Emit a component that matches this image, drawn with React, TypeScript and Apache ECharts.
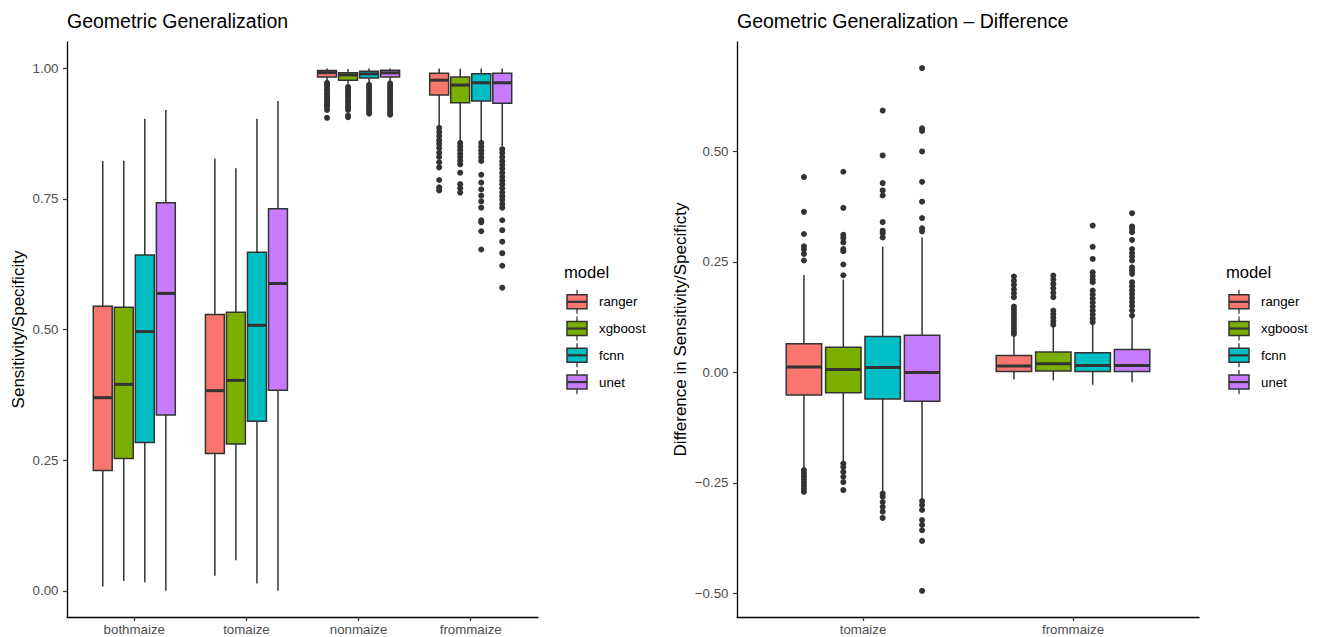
import React, { useEffect, useRef } from "react";
import * as echarts from "echarts";

const FONT = "'Liberation Sans', Arial, Helvetica, sans-serif";

const models = ["ranger", "xgboost", "fcnn", "unet"];
const modelColors = ["#F8766D", "#7CAE00", "#00BFC4", "#C77CFF"];

const leftCategories = ["bothmaize", "tomaize", "nonmaize", "frommaize"];
const rightCategories = ["tomaize", "frommaize"];

const leftYTicks = [0, 0.25, 0.5, 0.75, 1.0];
const rightYTicks = [-0.5, -0.25, 0, 0.25, 0.5];

// Box stats per category: [lower whisker, Q1, median, Q3, upper whisker]
const leftRanger = [
  [0.0083, 0.2303, 0.3696, 0.5445, 0.8225],
  [0.029, 0.2627, 0.383, 0.5286, 0.827],
  [0.977, 0.983, 0.9914, 0.9956, 0.9995],
  [0.889, 0.9485, 0.977, 0.990, 0.9994],
];
const leftXgboost = [
  [0.019, 0.2532, 0.395, 0.5426, 0.823],
  [0.0585, 0.281, 0.4027, 0.533, 0.8085],
  [0.970, 0.977, 0.987, 0.991, 0.9985],
  [0.862, 0.934, 0.9676, 0.983, 0.999],
];
const leftFcnn = [
  [0.0165, 0.2837, 0.496, 0.6425, 0.903],
  [0.014, 0.3244, 0.508, 0.6476, 0.903],
  [0.972, 0.981, 0.989, 0.994, 0.9995],
  [0.861, 0.937, 0.972, 0.9895, 0.9994],
];
const leftUnet = [
  [0.0, 0.3365, 0.569, 0.7424, 0.9198],
  [0.0, 0.384, 0.588, 0.731, 0.937],
  [0.976, 0.983, 0.991, 0.996, 0.9995],
  [0.851, 0.9326, 0.972, 0.990, 0.9994],
];

// Outliers per category
const leftRangerOut = [
  [],
  [],
  [0.972, 0.968, 0.965, 0.96, 0.957, 0.952, 0.949, 0.944, 0.94, 0.937, 0.932, 0.928, 0.925, 0.92, 0.905],
  [0.886, 0.878, 0.870, 0.862, 0.855, 0.847, 0.838, 0.83, 0.82, 0.81, 0.786, 0.772, 0.766],
];
const leftXgboostOut = [
  [],
  [],
  [0.964, 0.96, 0.955, 0.951, 0.947, 0.943, 0.938, 0.934, 0.929, 0.925, 0.92, 0.909, 0.906],
  [0.857, 0.85, 0.843, 0.836, 0.83, 0.823, 0.816, 0.80, 0.778, 0.77, 0.762],
];
const leftFcnnOut = [
  [],
  [],
  [0.968, 0.963, 0.959, 0.954, 0.95, 0.945, 0.941, 0.936, 0.931, 0.927, 0.922, 0.918, 0.913],
  [0.857, 0.85, 0.843, 0.836, 0.829, 0.8225, 0.796, 0.781, 0.768, 0.756, 0.745, 0.733, 0.709, 0.705, 0.688, 0.653],
];
const leftUnetOut = [
  [],
  [],
  [0.971, 0.966, 0.962, 0.957, 0.953, 0.948, 0.944, 0.939, 0.935, 0.93, 0.925, 0.92, 0.915, 0.911],
  [0.845, 0.838, 0.83, 0.822, 0.815, 0.808, 0.8, 0.792, 0.785, 0.778, 0.77, 0.762, 0.755, 0.748, 0.74, 0.733, 0.709, 0.69, 0.668, 0.646, 0.622, 0.58],
];

const rightRanger = [
  [-0.217, -0.051, 0.012, 0.0647, 0.2205],
  [-0.016, 0.0023, 0.0142, 0.038, 0.0835],
];
const rightXgboost = [
  [-0.2025, -0.046, 0.0068, 0.057, 0.21],
  [-0.018, 0.003, 0.0195, 0.046, 0.104],
];
const rightFcnn = [
  [-0.27, -0.06, 0.0113, 0.0813, 0.284],
  [-0.028, 0.0023, 0.0158, 0.0444, 0.11],
];
const rightUnet = [
  [-0.287, -0.065, 0.0, 0.084, 0.305],
  [-0.022, 0.0023, 0.0158, 0.052, 0.125],
];

const rightRangerOut = [
  [0.4417, 0.363, 0.313, 0.285, 0.278, 0.268, 0.253, -0.221, -0.228, -0.235, -0.242, -0.249, -0.256, -0.263, -0.27],
  [0.2167, 0.207, 0.198, 0.188, 0.179, 0.17, 0.149, 0.142, 0.135, 0.128, 0.121, 0.114, 0.107, 0.1, 0.093, 0.087],
];
const rightXgboostOut = [
  [0.4537, 0.372, 0.311, 0.304, 0.294, 0.279, 0.274, 0.244, 0.2197, -0.206, -0.214, -0.225, -0.236, -0.248, -0.266],
  [0.219, 0.21, 0.2, 0.19, 0.18, 0.17, 0.14, 0.132, 0.124, 0.116, 0.108],
];
const rightFcnnOut = [
  [0.592, 0.4906, 0.428, 0.4115, 0.4, 0.34, 0.3205, 0.3145, 0.305, -0.274, -0.281, -0.293, -0.304, -0.315, -0.329],
  [0.332, 0.284, 0.2566, 0.2265, 0.218, 0.21, 0.204, 0.185, 0.176, 0.167, 0.158, 0.149, 0.14, 0.131, 0.122, 0.1136],
];
const rightUnetOut = [
  [0.688, 0.552, 0.546, 0.4996, 0.431, 0.386, 0.349, 0.3257, 0.319, -0.291, -0.3, -0.311, -0.334, -0.345, -0.357, -0.381, -0.494],
  [0.36, 0.33, 0.324, 0.317, 0.2995, 0.279, 0.27, 0.262, 0.253, 0.2377, 0.23, 0.2228, 0.204, 0.195, 0.186, 0.177, 0.168, 0.159, 0.15, 0.14, 0.1287],
];

const leftStats = [leftRanger, leftXgboost, leftFcnn, leftUnet];
const leftOut = [leftRangerOut, leftXgboostOut, leftFcnnOut, leftUnetOut];
const rightStats = [rightRanger, rightXgboost, rightFcnn, rightUnet];
const rightOut = [rightRangerOut, rightXgboostOut, rightFcnnOut, rightUnetOut];

const DODGE = 0.75 / 4;
const BOXW = DODGE * 0.9;
const offsetOf = (m: number) => (m - 1.5) * DODGE;
const OUTLINE = "#333333";

function makeBoxRender(m: number) {
  return (params: any, api: any) => {
    const c = api.value(0) + offsetOf(m);
    const lo = api.value(1), q1 = api.value(2), med = api.value(3), q3 = api.value(4), hi = api.value(5);
    const h = BOXW / 2;
    const tl = api.coord([c - h, q3]);
    const br = api.coord([c + h, q1]);
    const cHi = api.coord([c, hi]);
    const cQ3 = api.coord([c, q3]);
    const cQ1 = api.coord([c, q1]);
    const cLo = api.coord([c, lo]);
    const mL = api.coord([c - h, med]);
    const mR = api.coord([c + h, med]);
    const ls = { stroke: OUTLINE, lineWidth: 1.5 };
    return {
      type: "group",
      children: [
        { type: "line", shape: { x1: cHi[0], y1: cHi[1], x2: cQ3[0], y2: cQ3[1] }, style: ls },
        { type: "line", shape: { x1: cQ1[0], y1: cQ1[1], x2: cLo[0], y2: cLo[1] }, style: ls },
        {
          type: "rect",
          shape: { x: tl[0], y: tl[1], width: br[0] - tl[0], height: br[1] - tl[1] },
          style: { fill: modelColors[m], stroke: OUTLINE, lineWidth: 1.5 },
        },
        { type: "line", shape: { x1: mL[0], y1: mL[1], x2: mR[0], y2: mR[1] }, style: { stroke: OUTLINE, lineWidth: 3 } },
      ],
    };
  };
}

function buildSeries(stats: number[][][], outs: number[][][], axisIndex: number) {
  const series: any[] = [];
  stats.forEach((rows, m) => {
    series.push({
      type: "custom",
      name: models[m],
      xAxisIndex: axisIndex,
      yAxisIndex: axisIndex,
      renderItem: makeBoxRender(m),
      encode: { x: 0, y: [1, 2, 3, 4, 5] },
      data: rows.map((r, i) => [i + 1, ...r]),
      z: 2,
    });
  });
  outs.forEach((cats, m) => {
    const pts: number[][] = [];
    cats.forEach((vals, i) => vals.forEach((v) => pts.push([i + 1 + offsetOf(m), v])));
    series.push({
      type: "scatter",
      xAxisIndex: axisIndex,
      yAxisIndex: axisIndex,
      symbol: "circle",
      symbolSize: 6,
      itemStyle: { color: OUTLINE, opacity: 1 },
      data: pts,
      z: 3,
    });
  });
  return series;
}

function xAxisOf(grid: number, cats: string[]) {
  const vals = cats.map((_, i) => i + 1);
  return {
    type: "value",
    gridIndex: grid,
    min: 0.4,
    max: cats.length + 0.6,
    axisLine: { show: true, onZero: false, lineStyle: { color: "#000", width: 1.3 } },
    axisTick: { show: true, customValues: vals, length: 4, lineStyle: { color: OUTLINE, width: 1.2 } },
    axisLabel: {
      customValues: vals,
      formatter: (v: number) => cats[Math.round(v) - 1] ?? "",
      color: "#4D4D4D",
      fontSize: 13.3,
      fontFamily: FONT,
      margin: 6,
    },
    splitLine: { show: false },
  };
}

function yAxisOf(grid: number, min: number, max: number, ticks: number[]) {
  return {
    type: "value",
    gridIndex: grid,
    min,
    max,
    axisLine: { show: true, onZero: false, lineStyle: { color: "#000", width: 1.3 } },
    axisTick: { show: true, customValues: ticks, length: 4, lineStyle: { color: OUTLINE, width: 1.2 } },
    axisLabel: {
      customValues: ticks,
      formatter: (v: number) => v.toFixed(2).replace("-", "\u2212"),
      color: "#4D4D4D",
      fontSize: 13.3,
      fontFamily: FONT,
      margin: 8.5,
    },
    splitLine: { show: false },
  };
}

function legendGraphics(x0: number, textX: number) {
  const els: any[] = [];
  els.push({
    type: "text",
    x: x0 - 3,
    y: 272.3,
    style: { text: "model", font: `16.6px ${FONT}`, fill: "#000", align: "left", verticalAlign: "middle" },
  });
  models.forEach((name, m) => {
    const cy = 301.8 + m * 26.75;
    const cx = x0 + 10;
    els.push({ type: "line", shape: { x1: cx, y1: cy - 12, x2: cx, y2: cy + 12 }, style: { stroke: OUTLINE, lineWidth: 1.3 } });
    els.push({
      type: "rect",
      shape: { x: x0, y: cy - 7, width: 20, height: 14 },
      style: { fill: modelColors[m], stroke: OUTLINE, lineWidth: 1.5 },
    });
    els.push({ type: "line", shape: { x1: x0, y1: cy, x2: x0 + 20, y2: cy }, style: { stroke: OUTLINE, lineWidth: 2.2 } });
    els.push({
      type: "text",
      x: textX,
      y: cy,
      style: { text: name, font: `13.3px ${FONT}`, fill: "#000", align: "left", verticalAlign: "middle" },
    });
  });
  return els;
}

export default function App() {
  const ref = useRef<HTMLDivElement>(null);
  useEffect(() => {
    if (!ref.current) return;
    const chart = echarts.init(ref.current, undefined, { renderer: "svg" });
    const lMin = -0.05, lMax = 1.05;
    const rMin = -0.5531, rMax = 0.7471;
    const option: any = {
      animation: false,
      backgroundColor: "#ffffff",
      textStyle: { fontFamily: FONT },
      grid: [
        { left: 67, top: 42, width: 471, height: 575 },
        { left: 737, top: 42, width: 462, height: 575 },
      ],
      xAxis: [xAxisOf(0, leftCategories), xAxisOf(1, rightCategories)],
      yAxis: [yAxisOf(0, lMin, lMax, leftYTicks), yAxisOf(1, rMin, rMax, rightYTicks)],
      series: [...buildSeries(leftStats, leftOut, 0), ...buildSeries(rightStats, rightOut, 1)],
      graphic: [
        {
          type: "text",
          x: 67,
          y: 21.3,
          style: { text: "Geometric Generalization", font: `19.5px ${FONT}`, fill: "#000", align: "left", verticalAlign: "middle" },
        },
        {
          type: "text",
          x: 737,
          y: 21.3,
          style: { text: "Geometric Generalization \u2013 Difference", font: `19.5px ${FONT}`, fill: "#000", align: "left", verticalAlign: "middle" },
        },
        {
          type: "text",
          x: 18.5,
          y: 329.5,
          rotation: Math.PI / 2,
          style: { text: "Sensitivity/Specificity", font: `17px ${FONT}`, fill: "#000", align: "center", verticalAlign: "middle" },
        },
        {
          type: "text",
          x: 680,
          y: 329.5,
          rotation: Math.PI / 2,
          style: { text: "Difference in Sensitivity/Specificty", font: `17px ${FONT}`, fill: "#000", align: "center", verticalAlign: "middle" },
        },
        ...legendGraphics(567, 599),
        ...legendGraphics(1229, 1261),
      ],
    };
    chart.setOption(option);
    return () => chart.dispose();
  }, []);
  return <div ref={ref} style={{ position: "absolute", left: 0, top: 0, width: 1319, height: 637 }} />;
}
